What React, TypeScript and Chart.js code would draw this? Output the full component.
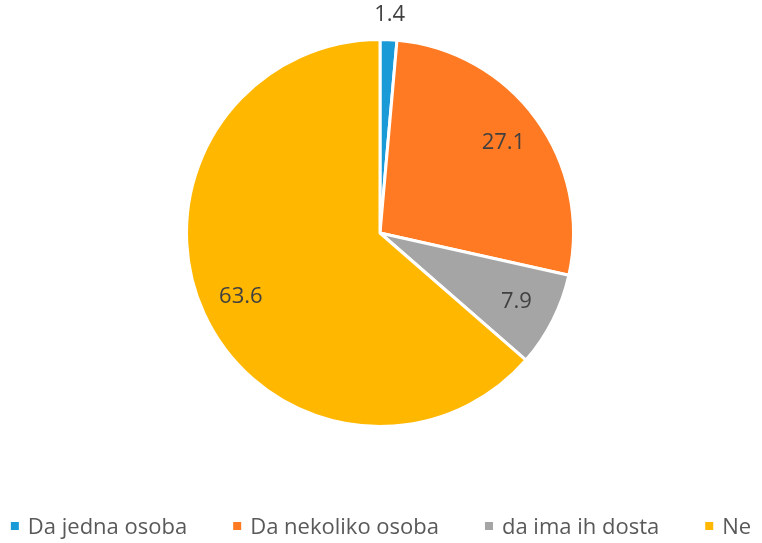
import React, { useEffect, useRef } from "react";
import { Chart, registerables } from "chart.js";

Chart.register(...registerables);

const categories = ["Da jedna osoba", "Da nekoliko osoba", "da ima ih dosta", "Ne"];
const values = [1.4, 27.1, 7.9, 63.6];
const valueLabels = ["1.4", "27.1", "7.9", "63.6"];
const colors = ["#1A9BD7", "#FF7A22", "#A5A5A5", "#FFB700"];

const FONT = "'Open Sans', 'DejaVu Sans', sans-serif";

const labelPlugin = {
  id: "sliceLabels",
  afterDatasetsDraw(chart: any) {
    const ctx = chart.ctx;
    const meta = chart.getDatasetMeta(0);
    ctx.save();
    ctx.font = `22px ${FONT}`;
    ctx.fillStyle = "#404040";
    ctx.textAlign = "center";
    ctx.textBaseline = "middle";
    meta.data.forEach((arc: any, i: number) => {
      const p = arc.getProps(["x", "y", "startAngle", "endAngle", "outerRadius"], true);
      const mid = (p.startAngle + p.endAngle) / 2;
      const v = values[i];
      const dist = v < 5 ? p.outerRadius + 25 : p.outerRadius * 0.79;
      const x = p.x + Math.cos(mid) * dist;
      const y = p.y + Math.sin(mid) * dist;
      ctx.fillText(valueLabels[i], x, y);
    });
    ctx.restore();
  },
};

const legendPlugin = {
  id: "bottomLegend",
  afterDraw(chart: any) {
    const ctx = chart.ctx;
    ctx.save();
    ctx.font = `22px ${FONT}`;
    const box = 8;
    const boxGap = 9;
    const gap = 46;
    const widths = categories.map((c) => box + boxGap + ctx.measureText(c).width);
    const total = widths.reduce((a, b) => a + b, 0) + gap * (categories.length - 1);
    let x = (chart.width - total) / 2;
    const y = 528;
    ctx.textBaseline = "middle";
    ctx.textAlign = "left";
    categories.forEach((c, i) => {
      ctx.fillStyle = colors[i];
      ctx.fillRect(x, y - box / 2 - 2, box, box);
      ctx.fillStyle = "#595959";
      ctx.fillText(c, x + box + boxGap, y);
      x += widths[i] + gap;
    });
    ctx.restore();
  },
};

export default function App() {
  const ref = useRef<HTMLCanvasElement | null>(null);
  useEffect(() => {
    if (!ref.current) return;
    const chart = new Chart(ref.current, {
      type: "pie",
      data: {
        labels: categories,
        datasets: [
          {
            data: values,
            backgroundColor: colors,
            borderColor: "#ffffff",
            borderWidth: 3,
          },
        ],
      },
      options: {
        animation: false,
        responsive: false,
        maintainAspectRatio: false,
        layout: { padding: { top: 38, bottom: 115, left: 0, right: 2 } },
        plugins: {
          legend: { display: false },
          tooltip: { enabled: false },
          title: { display: false },
        },
      },
      plugins: [labelPlugin, legendPlugin],
    });
    return () => chart.destroy();
  }, []);
  return (
    <div style={{ position: "fixed", left: 0, top: 0, width: 762, height: 543, background: "#fff" }}>
      <canvas ref={ref} width={762} height={543} style={{ width: 762, height: 543 }} />
    </div>
  );
}
